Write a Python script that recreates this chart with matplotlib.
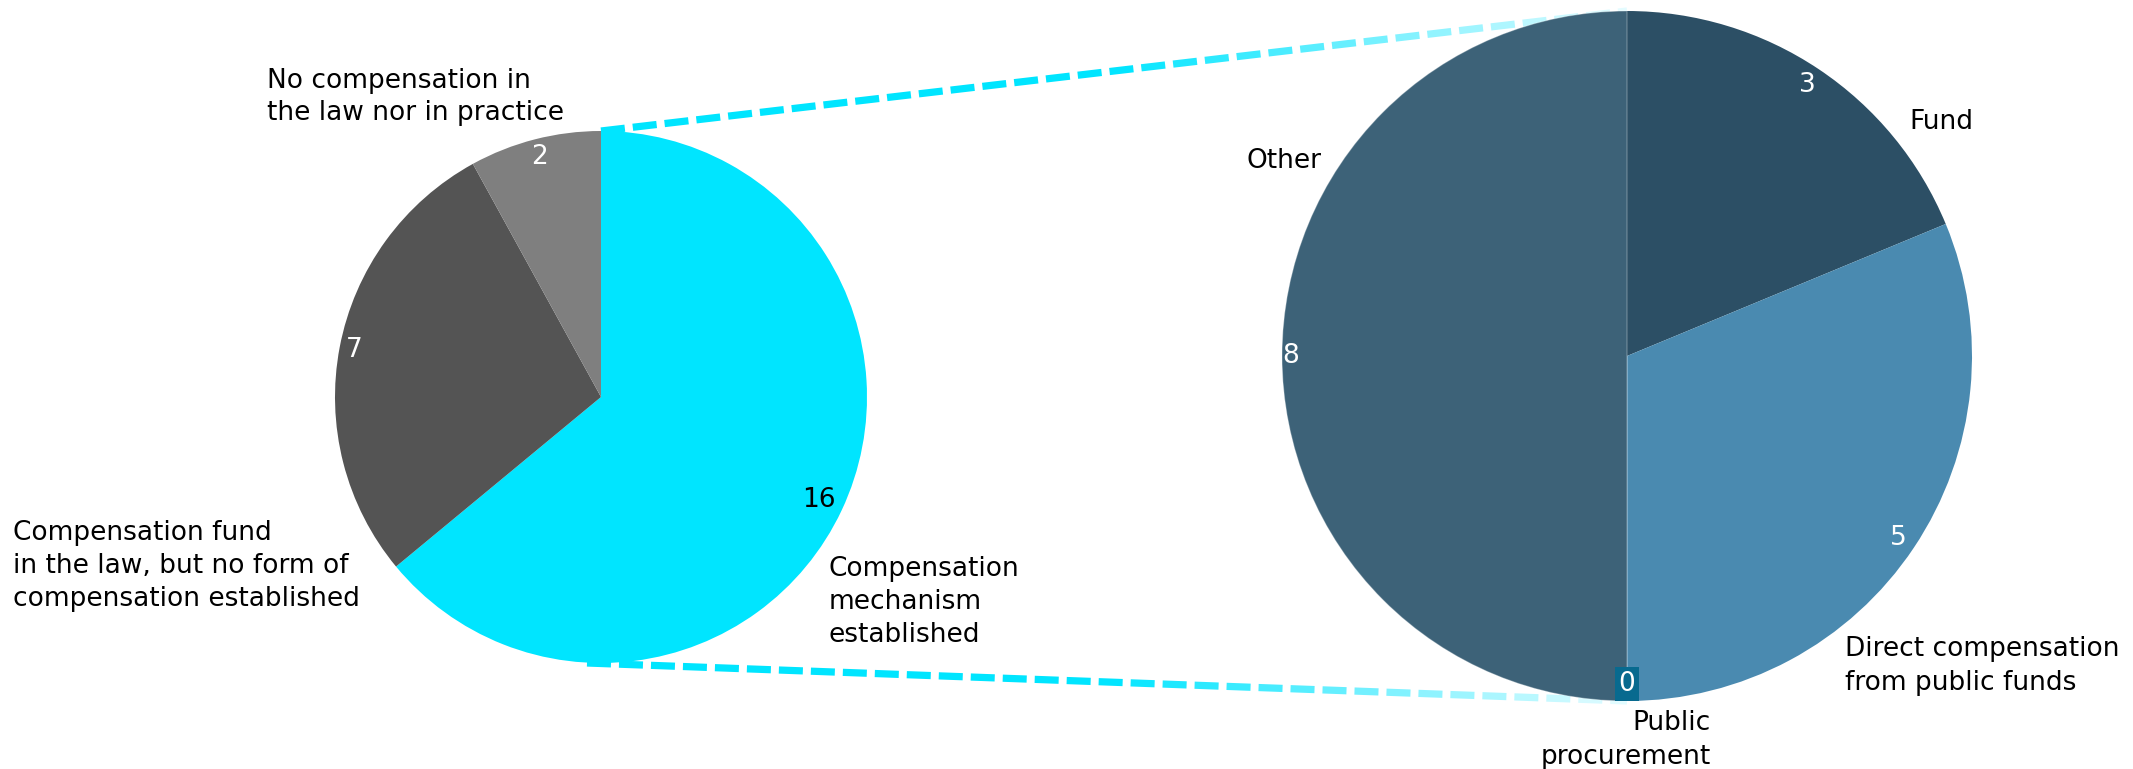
import numpy as np
import matplotlib
matplotlib.use('Agg')
import matplotlib.pyplot as plt
from matplotlib.collections import LineCollection
from matplotlib.colors import to_rgb

# ---- data ---------------------------------------------------------------
main_labels   = ['Compensation\nmechanism\nestablished',
                 'Compensation fund\nin the law, but no form of\ncompensation established',
                 'No compensation in\nthe law nor in practice']
main_values   = [16, 7, 2]
main_colors   = ['#00e5ff', '#545454', '#7f7f7f']
main_numcol   = ['black', 'white', 'white']

sub_labels    = ['Fund', 'Direct compensation\nfrom public funds',
                 'Public\nprocurement', 'Other']
sub_values    = [3, 5, 0, 8]
sub_colors    = ['#2c4f65', '#4a8ab0', '#086a8f', '#3d6278']

# ---- layout (pixels, y measured downward as in the picture) -------------
W, H = 2133, 769
c1, r1 = (601, 397), 266
c2, r2 = (1627, 356), 345
FS = 19
FONT = 'DejaVu Sans'

main_lab_pos = [(829, 602, 'left'), (13, 566, 'left'), (267, 97, 'left')]
sub_lab_pos  = [(1909, 122, 'left'), (1845, 666, 'left'),
                (1711, 740, 'right'), (1322, 161, 'right')]

fig = plt.figure(figsize=(W / 100, H / 100), dpi=100)
ax = fig.add_axes([0, 0, 1, 1])


def Y(y):
    return H - y


def dashed_gradient(p0, p1, c_start, c_end, t0=0.5, dash=24, gap=8, lw=5.2):
    p0, p1 = np.array(p0, float), np.array(p1, float)
    L = np.hypot(*(p1 - p0))
    segs, cols = [], []
    s = 0.0
    a, b = np.array(to_rgb(c_start)), np.array(to_rgb(c_end))
    while s < L:
        e = min(s + dash, L)
        segs.append([p0 + (p1 - p0) * s / L, p0 + (p1 - p0) * e / L])
        t = (s + e) / 2 / L
        f = np.clip((t - t0) / (1 - t0), 0, 1)
        cols.append(a + (b - a) * f)
        s += dash + gap
    lc = LineCollection(segs, colors=cols, linewidths=lw, capstyle='butt', zorder=1)
    ax.add_collection(lc)


# connectors between the two pies (behind the right pie)
dashed_gradient((c1[0], Y(c1[1] - r1)), (c2[0], Y(c2[1] - r2)), '#00e5ff', '#e6fcff')
dashed_gradient((c1[0] - 14, Y(c1[1] + r1)), (c2[0], Y(c2[1] + r2)), '#00e5ff', '#e6fcff')

wedges1, _ = ax.pie(main_values, colors=main_colors, startangle=90, counterclock=False,
                    center=(c1[0], Y(c1[1])), radius=r1, frame=True,
                    wedgeprops=dict(linewidth=0))
wedges2, _ = ax.pie(sub_values, colors=sub_colors, startangle=90, counterclock=False,
                    center=(c2[0], Y(c2[1])), radius=r2, frame=True,
                    wedgeprops=dict(linewidth=0))
for w in wedges1 + wedges2:
    w.set_zorder(2)
# faint border on the "Other" slice and the empty slice, as in the source
for i in (2, 3):
    wedges2[i].set_edgecolor((1, 1, 1, 0.3))
    wedges2[i].set_linewidth(0.8)

ax.set_xlim(0, W)
ax.set_ylim(0, H)
ax.set_aspect('equal')
ax.set_axis_off()

renderer = fig.canvas.get_renderer()


def value_labels(wedges, values, center, radius, colors, boxcolors=None, pad=4):
    for i, (w, v) in enumerate(zip(wedges, values)):
        ang = np.deg2rad((w.theta1 + w.theta2) / 2)
        bbox = None
        if boxcolors and boxcolors[i]:
            bbox = dict(boxstyle='square,pad=0.15', fc=boxcolors[i], ec='none')
        t = ax.text(0, 0, str(v), fontsize=FS, family=FONT, color=colors[i],
                    ha='center', va='center', bbox=bbox, zorder=4)
        ext = t.get_window_extent(renderer=renderer)
        hw, hh = ext.width / 2, ext.height / 2
        if bbox is not None:
            hw, hh, pad = hw + 4, hh + 4, 0
        d = hw * abs(np.cos(ang)) + hh * abs(np.sin(ang)) + pad
        rr = radius - d
        t.set_position((center[0] + rr * np.cos(ang), Y(center[1]) + rr * np.sin(ang)))


value_labels(wedges1, main_values, c1, r1, main_numcol)
value_labels(wedges2, sub_values, c2, r2, ['white'] * 4,
             boxcolors=[None, None, '#086a8f', None])

for lab, (x, y, ha) in zip(main_labels + sub_labels, main_lab_pos + sub_lab_pos):
    ax.text(x, Y(y), lab, fontsize=FS, family=FONT, ha=ha, va='center',
            multialignment=ha, linespacing=1.35, color='black', zorder=5)

fig.savefig('out.png', dpi=100, facecolor='white')
